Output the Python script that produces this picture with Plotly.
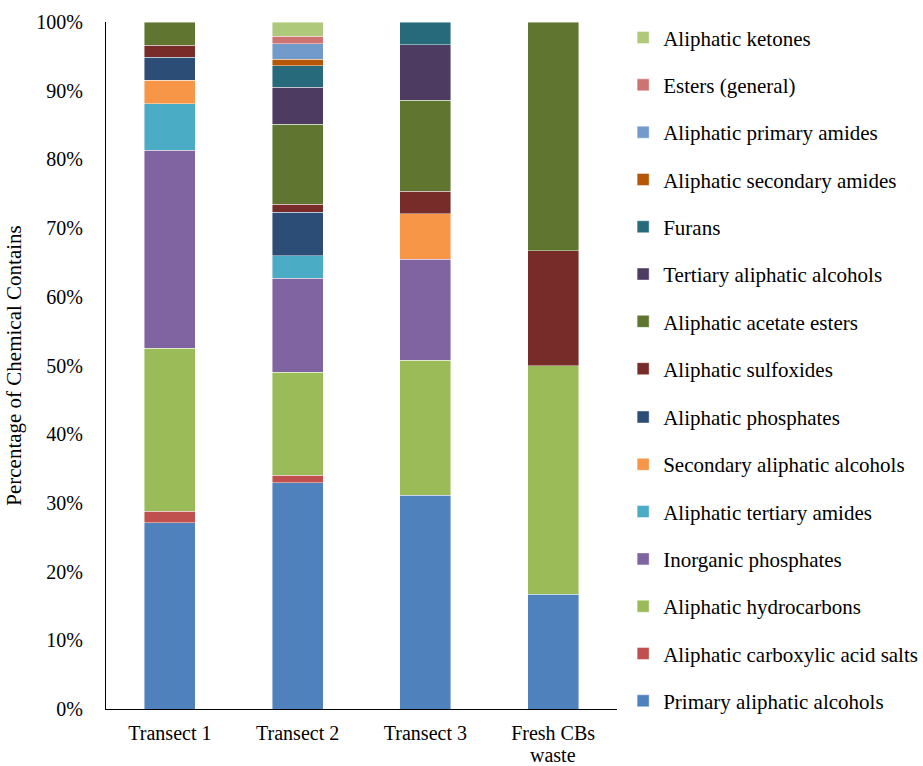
import plotly.graph_objects as go

# Sampling sites
sites = ["Transect 1", "Transect 2", "Transect 3", "Fresh CBs<br>waste"]

# Share of each chemical class per site (%), bottom of the stack first
primary_aliphatic_alcohols = [27.1, 32.9, 31.1, 16.7]
carboxylic_acid_salts = [1.7, 1.1, 0, 0]
aliphatic_hydrocarbons = [23.7, 15.0, 19.7, 33.3]
inorganic_phosphates = [28.8, 13.7, 14.7, 0]
tertiary_amides = [6.8, 3.3, 0, 0]
secondary_aliphatic_alcohols = [3.4, 0, 6.6, 0]
aliphatic_phosphates = [3.4, 6.3, 0, 0]
aliphatic_sulfoxides = [1.7, 1.2, 3.3, 16.7]
acetate_esters = [3.4, 11.6, 13.2, 33.3]
tertiary_aliphatic_alcohols = [0, 5.4, 8.1, 0]
furans = [0, 3.1, 3.3, 0]
secondary_amides = [0, 1.0, 0, 0]
primary_amides = [0, 2.2, 0, 0]
esters_general = [0, 1.1, 0, 0]
aliphatic_ketones = [0, 2.1, 0, 0]

# Percent axis ticks
tick_values = [0, 10, 20, 30, 40, 50, 60, 70, 80, 90, 100]
tick_labels = [f"{v}%" for v in tick_values]

series = [
    ("Primary aliphatic alcohols", primary_aliphatic_alcohols, "#4F81BD"),
    ("Aliphatic carboxylic acid salts", carboxylic_acid_salts, "#C0504D"),
    ("Aliphatic hydrocarbons", aliphatic_hydrocarbons, "#9BBB59"),
    ("Inorganic phosphates", inorganic_phosphates, "#8064A2"),
    ("Aliphatic tertiary amides", tertiary_amides, "#4BACC6"),
    ("Secondary aliphatic alcohols", secondary_aliphatic_alcohols, "#F79646"),
    ("Aliphatic phosphates", aliphatic_phosphates, "#2C4D75"),
    ("Aliphatic sulfoxides", aliphatic_sulfoxides, "#772C2A"),
    ("Aliphatic acetate esters", acetate_esters, "#5F7530"),
    ("Tertiary aliphatic alcohols", tertiary_aliphatic_alcohols, "#4D3B62"),
    ("Furans", furans, "#276A7C"),
    ("Aliphatic secondary amides", secondary_amides, "#B65708"),
    ("Aliphatic primary amides", primary_amides, "#729ACA"),
    ("Esters (general)", esters_general, "#CD7371"),
    ("Aliphatic ketones", aliphatic_ketones, "#AFC97A"),
]

FONT = "Liberation Serif, Times New Roman, serif"

fig = go.Figure()
n = len(series)
for i, (name, vals, color) in enumerate(series):
    fig.add_trace(go.Bar(
        name=name,
        x=sites,
        y=[v if v else None for v in vals],
        marker=dict(color=color, line=dict(color="rgba(255,255,255,0.55)", width=0.8)),
        legendgroup=f"g{i}",
        legendrank=n - i,  # top of the stack listed first
        # the key is split over two stacked legend boxes
        legend="legend" if i >= 7 else "legend2",
    ))

# Category labels: first line as the tick label, further lines set tighter below it
first_lines = [s.split("<br>")[0] for s in sites]
for site in sites:
    for k, line in enumerate(site.split("<br>")[1:], start=1):
        fig.add_annotation(
            x=site, xref="x", y=0, yref="paper",
            text=line, showarrow=False,
            xanchor="center", yanchor="middle",
            yshift=-24 - 22 * k,
            borderpad=0,
            font=dict(family=FONT, size=20, color="#000000"),
        )

legend_style = dict(
    traceorder="grouped",
    tracegroupgap=17,
    x=1.012,
    xanchor="left",
    yanchor="top",
    font=dict(family=FONT, size=21),
    bgcolor="rgba(0,0,0,0)",
    itemwidth=30,
)

fig.update_layout(
    width=923,
    height=766,
    barmode="stack",
    bargap=0.6,
    plot_bgcolor="white",
    paper_bgcolor="white",
    font=dict(family=FONT, size=21, color="#000000"),
    margin=dict(l=106, r=306, t=22, b=57, pad=0, autoexpand=False),
    legend=dict(legend_style, y=1.0067),
    legend2=dict(legend_style, y=0.4544),
    showlegend=True,
)

fig.update_yaxes(
    range=[0, 100],
    tickmode="array",
    tickvals=tick_values,
    ticktext=tick_labels,
    tickfont=dict(family=FONT, size=20),
    showgrid=False,
    zeroline=False,
    showline=True,
    linecolor="black",
    linewidth=1.3,
    ticks="",
    ticklabelstandoff=18,
    automargin=False,
    title=dict(text="Percentage of Chemical Contains", font=dict(family=FONT, size=21), standoff=8),
)
fig.update_xaxes(
    tickmode="array",
    tickvals=sites,
    ticktext=first_lines,
    tickfont=dict(family=FONT, size=20),
    showgrid=False,
    showline=True,
    linecolor="black",
    linewidth=1.3,
    ticks="",
    ticklabelstandoff=6,
    automargin=False,
)

fig.write_html("out.html")
